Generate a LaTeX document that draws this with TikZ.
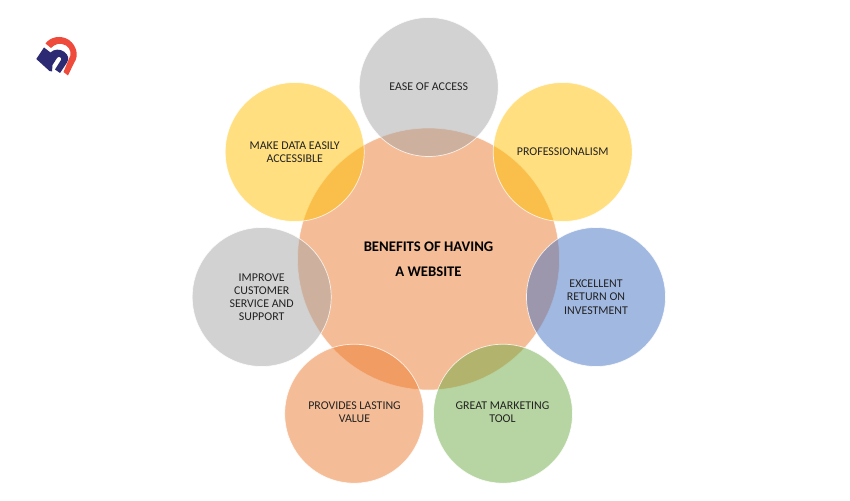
\documentclass[tikz,border=0pt]{standalone}
\usepackage{fontspec}
\setmainfont{Carlito}
\definecolor{cgrey}{HTML}{A6A6A6}
\definecolor{cyellow}{HTML}{FFC000}
\definecolor{corange}{HTML}{ED7D31}
\definecolor{cblue}{HTML}{4472C4}
\definecolor{cgreen}{HTML}{70AD47}
\definecolor{logored}{HTML}{EF4B3C}
\definecolor{logonavy}{HTML}{2B2A72}
\definecolor{txt}{HTML}{222222}
\tikzset{
  petal/.style={circle,minimum size=139pt,inner sep=0pt,fill opacity=.5,draw=white,draw opacity=.8,line width=.7pt,text opacity=1,align=center,text=txt,font=\fontsize{11.9}{13.2}\selectfont},
  hub/.style={petal,minimum size=262pt,fill=corange,font=\fontsize{14.7}{24.5}\selectfont\bfseries,text=black},
  caption/.style={inner sep=0pt,align=center,text=txt,font=\fontsize{11.9}{13.2}\selectfont},
}
\begin{document}
\begin{tikzpicture}[x=1pt,y=-1pt]
\useasboundingbox (0,0) rectangle (850,500);
\fill[white] (0,0) rectangle (850,500);
\node[hub] (center) at (428.5,259) {BENEFITS OF HAVING\\A WEBSITE};
\node[petal,fill=cgrey] (access) at (428.7,87) {EASE OF ACCESS};
\node[petal,fill=cyellow] (data) at (294.7,152) {MAKE DATA EASILY\\ACCESSIBLE};
\node[petal,fill=cyellow] (prof) at (562.7,152) {PROFESSIONALISM};
\node[petal,fill=cgrey] (service) at (261.7,297) {IMPROVE\\CUSTOMER\\SERVICE AND\\SUPPORT};
\node[petal,fill=cblue] (roi) at (596,297) {EXCELLENT\\RETURN ON\\INVESTMENT};
\node[petal,fill=corange] (value) at (354.2,413.7) {};
\node[caption] (valuetext) at (354.5,412.5) {PROVIDES LASTING\\VALUE};
\node[petal,fill=cgreen] (tool) at (503,413.7) {};
\node[caption] (tooltext) at (502.5,412.5) {GREAT MARKETING\\TOOL};
% logo
\fill[logored] (45.5,43.5) .. controls (50,37) and (61,34.5) .. (69,40) .. controls (77,46) and (79,56) .. (74,63) -- (68,75.5) -- (63.5,72) -- (68.5,60) .. controls (72,54) and (71,49) .. (66,45.5) .. controls (60,42) and (55,44) .. (51,48) -- cycle;
\fill[logonavy] (36.3,59) -- (44,47.5) -- (50.5,52.5) .. controls (54,49) and (60,48.5) .. (64.5,52) .. controls (68.5,55) and (69,59) .. (67,62.5) -- (60,73) -- (55,69.5) -- (61,60) .. controls (62,57.5) and (59,55.5) .. (57,58) -- (52.5,65) -- (52,71.5) -- (49.5,71) -- cycle;
\end{tikzpicture}
\end{document}
